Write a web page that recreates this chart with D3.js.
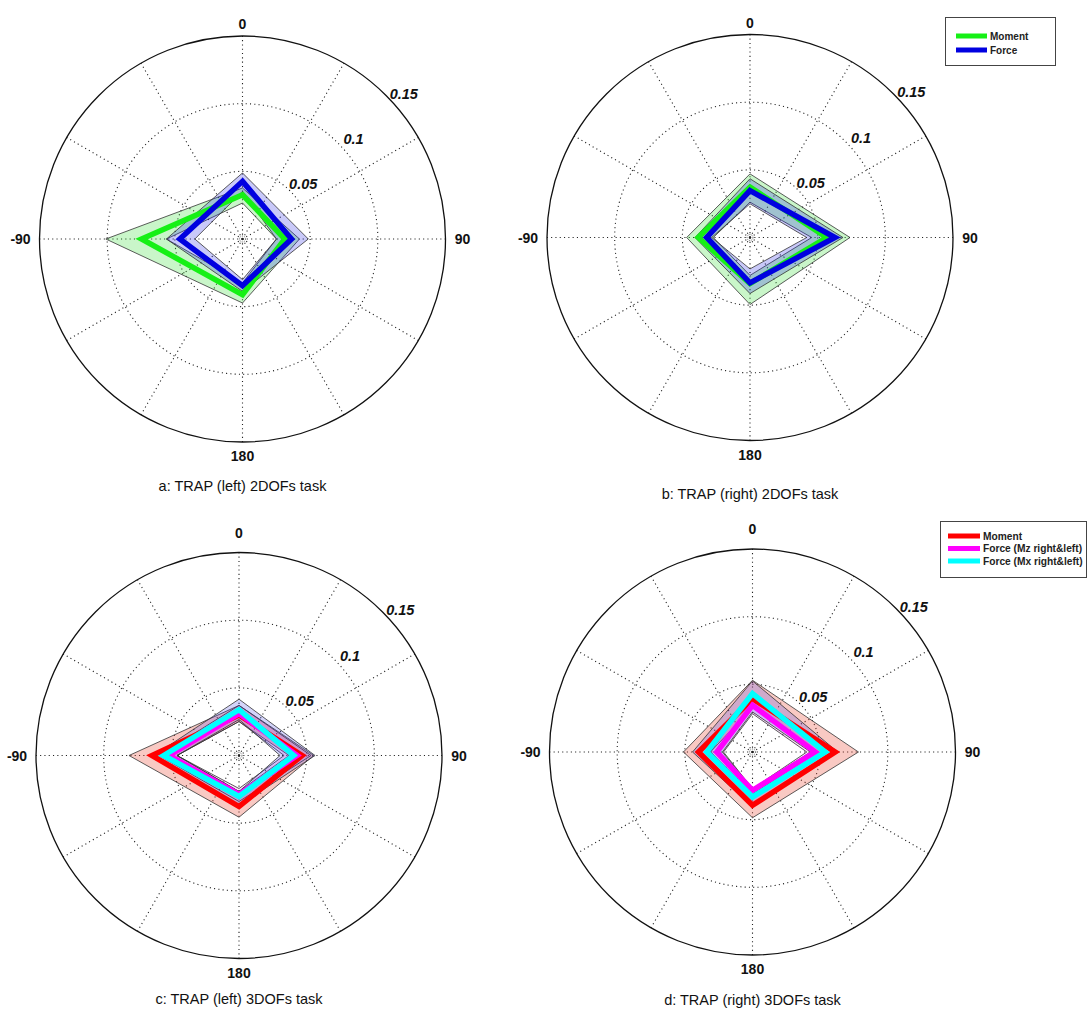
<!DOCTYPE html>
<html>
<head>
<meta charset="utf-8">
<script src="https://cdn.jsdelivr.net/npm/d3@7"></script>
<style>
  html, body { margin: 0; padding: 0; background: #fff; }
  svg { display: block; }
</style>
</head>
<body>
<svg id="chart" width="1089" height="1011"></svg>
<script>
// ---------- DATA ----------
const angles = [0, 90, 180, -90];           // polar directions (degrees, clockwise from top)
const angleLabels = ["0", "90", "180", "-90"];
const ringTicks = [0.05, 0.1, 0.15];
const ringTickLabels = ["0.05", "0.1", "0.15"];
const rMax = 0.15;
const spokeAngles = [0, 30, 60, 90, 120, 150, 180, 210, 240, 270, 300, 330];

const panelTitles = [
  "a: TRAP (left) 2DOFs task",
  "b: TRAP (right) 2DOFs task",
  "c: TRAP (left) 3DOFs task",
  "d: TRAP (right) 3DOFs task"
];

const legendNames2 = ["Moment", "Force"];
const legendNames3 = ["Moment", "Force (Mz right&left)", "Force (Mx right&left)"];

// values at angles [0, 90, 180, -90]
// panel a
const aMomentMean  = [0.0327, 0.0313, 0.0411, 0.0746];
const aMomentUpper = [0.0377, 0.0421, 0.0473, 0.1010];
const aMomentLower = [0.0266, 0.0251, 0.0325, 0.0562];
const aForceMean   = [0.0426, 0.0362, 0.0345, 0.0463];
const aForceUpper  = [0.0488, 0.0486, 0.0387, 0.0562];
const aForceLower  = [0.0352, 0.0251, 0.0300, 0.0352];
// panel b
const bMomentMean  = [0.0372, 0.0567, 0.0340, 0.0382];
const bMomentUpper = [0.0470, 0.0739, 0.0495, 0.0468];
const bMomentLower = [0.0261, 0.0456, 0.0280, 0.0271];
const bForceMean   = [0.0347, 0.0628, 0.0335, 0.0320];
const bForceUpper  = [0.0434, 0.0687, 0.0414, 0.0406];
const bForceLower  = [0.0249, 0.0419, 0.0232, 0.0283];
// panel c
const cMomentMean  = [0.0300, 0.0466, 0.0377, 0.0643];
const cMomentUpper = [0.0370, 0.0552, 0.0456, 0.0813];
const cMomentLower = [0.0251, 0.0370, 0.0266, 0.0458];
const cMzMean      = [0.0310, 0.0429, 0.0288, 0.0517];
const cMzUpper     = [0.0370, 0.0532, 0.0340, 0.0590];
const cMzLower     = [0.0251, 0.0333, 0.0244, 0.0458];
const cMxMean      = [0.0338, 0.0404, 0.0303, 0.0557];
const cMxUpper     = [0.0416, 0.0562, 0.0370, 0.0628];
const cMxLower     = [0.0266, 0.0303, 0.0266, 0.0458];
// panel d
const dMomentMean  = [0.0394, 0.0611, 0.0394, 0.0399];
const dMomentUpper = [0.0530, 0.0783, 0.0486, 0.0510];
const dMomentLower = [0.0330, 0.0480, 0.0310, 0.0310];
const dMzMean      = [0.0345, 0.0463, 0.0283, 0.0264];
const dMzUpper     = [0.0443, 0.0532, 0.0333, 0.0310];
const dMzLower     = [0.0283, 0.0401, 0.0271, 0.0214];
const dMxMean      = [0.0431, 0.0537, 0.0333, 0.0338];
const dMxUpper     = [0.0525, 0.0630, 0.0406, 0.0443];
const dMxLower     = [0.0296, 0.0429, 0.0273, 0.0222];

// ---------- STYLE / LAYOUT ----------
const R = 203;
const panels = [
  { cx: 242.5, cy: 239, title: panelTitles[0], titleY: 486, topOff: 215,
    series: [
      { mean: aMomentMean, upper: aMomentUpper, lower: aMomentLower, line: "#16f016", band: "rgba(40,220,40,0.25)" },
      { mean: aForceMean,  upper: aForceUpper,  lower: aForceLower,  line: "#0000e0", band: "rgba(40,40,230,0.25)" }
    ] },
  { cx: 750, cy: 237.5, title: panelTitles[1], titleY: 494, topOff: 215,
    series: [
      { mean: bMomentMean, upper: bMomentUpper, lower: bMomentLower, line: "#16f016", band: "rgba(40,220,40,0.25)" },
      { mean: bForceMean,  upper: bForceUpper,  lower: bForceLower,  line: "#0000e0", band: "rgba(40,40,230,0.25)" }
    ] },
  { cx: 239, cy: 755.5, title: panelTitles[2], titleY: 999, topOff: 223,
    series: [
      { mean: cMomentMean, upper: cMomentUpper, lower: cMomentLower, line: "#ff0000", band: "rgba(235,60,40,0.28)" },
      { mean: cMzMean,     upper: cMzUpper,     lower: cMzLower,     line: "#ff00ff", band: "rgba(230,80,230,0.18)" },
      { mean: cMxMean,     upper: cMxUpper,     lower: cMxLower,     line: "#00ffff", band: "rgba(60,60,230,0.22)" }
    ] },
  { cx: 752.5, cy: 752, title: panelTitles[3], titleY: 1000, topOff: 223,
    series: [
      { mean: dMomentMean, upper: dMomentUpper, lower: dMomentLower, line: "#ff0000", band: "rgba(235,60,40,0.28)" },
      { mean: dMzMean,     upper: dMzUpper,     lower: dMzLower,     line: "#ff00ff", band: "rgba(230,80,230,0.18)" },
      { mean: dMxMean,     upper: dMxUpper,     lower: dMxLower,     line: "#00ffff", band: "rgba(60,60,230,0.22)" }
    ] }
];

const svg = d3.select("#chart");
const r = d3.scaleLinear().domain([0, rMax]).range([0, R]);
const toRad = d => d * Math.PI / 180;
const radial = d3.lineRadial()
  .angle(d => toRad(d.a))
  .radius(d => r(d.v))
  .curve(d3.curveLinearClosed);
const pts = vals => angles.map((a, i) => ({ a, v: vals[i] }));

const dots = "1.1,3.2";
const font = "'Liberation Sans', Arial, sans-serif";

panels.forEach(p => {
  const g = svg.append("g").attr("transform", `translate(${p.cx},${p.cy})`);

  // grid: dotted rings
  ringTicks.slice(0, -1).forEach(t => {
    g.append("circle").attr("r", r(t)).attr("fill", "none")
      .attr("stroke", "#222").attr("stroke-width", 1.1).attr("stroke-dasharray", dots);
  });
  g.append("circle").attr("r", 3).attr("fill", "none")
    .attr("stroke", "#333").attr("stroke-width", 0.8).attr("stroke-dasharray", "1,1.2");
  // spokes
  spokeAngles.forEach(a => {
    const x = Math.sin(toRad(a)) * R, y = -Math.cos(toRad(a)) * R;
    g.append("line").attr("x1", 0).attr("y1", 0).attr("x2", x).attr("y2", y)
      .attr("stroke", "#222").attr("stroke-width", 1.1).attr("stroke-dasharray", dots);
  });
  // outer circle
  g.append("circle").attr("r", r(rMax)).attr("fill", "none")
    .attr("stroke", "#111").attr("stroke-width", 1.3);

  // ring labels
  ringTicks.forEach((t, i) => {
    const rr = r(t) + 14, a = toRad(48);
    g.append("text").attr("x", Math.sin(a) * rr).attr("y", -Math.cos(a) * rr)
      .attr("text-anchor", "middle").attr("dominant-baseline", "central")
      .attr("font-family", font).attr("font-weight", "bold").attr("font-style", "italic")
      .attr("font-size", 14.5).attr("fill", "#111").text(ringTickLabels[i]);
  });

  // angle labels
  const labPos = [[0, -p.topOff], [220, 0], [0, 217], [-222, 0]];
  angleLabels.forEach((t, i) => {
    g.append("text").attr("x", labPos[i][0]).attr("y", labPos[i][1])
      .attr("text-anchor", "middle").attr("dominant-baseline", "central")
      .attr("font-family", font).attr("font-weight", "bold")
      .attr("font-size", 14).attr("fill", "#111").text(t);
  });

  // bands
  p.series.forEach(s => {
    const outer = radial(pts(s.upper));
    const inner = radial(pts(s.lower));
    g.append("path").attr("d", outer + inner).attr("fill", s.band)
      .attr("fill-rule", "evenodd").attr("stroke", "none");
    g.append("path").attr("d", outer).attr("fill", "none")
      .attr("stroke", "#333").attr("stroke-width", 0.8);
    g.append("path").attr("d", inner).attr("fill", "none")
      .attr("stroke", "#333").attr("stroke-width", 0.8);
  });
  // mean lines
  p.series.forEach(s => {
    g.append("path").attr("d", radial(pts(s.mean))).attr("fill", "none")
      .attr("stroke", s.line).attr("stroke-width", 5.5).attr("stroke-linejoin", "miter");
  });

  // title
  svg.append("text").attr("x", p.cx).attr("y", p.titleY)
    .attr("text-anchor", "middle").attr("dominant-baseline", "central")
    .attr("font-family", font).attr("font-size", 14.5).attr("fill", "#111").text(p.title);
});

// legends
function legend(x, y, w, h, names, colors, rowY0, rowStep, fs, lineX0, lineX1) {
  const lg = svg.append("g");
  lg.append("rect").attr("x", x).attr("y", y).attr("width", w).attr("height", h)
    .attr("fill", "#fff").attr("stroke", "#444").attr("stroke-width", 1);
  const maxW = x + w - (lineX1 + 3) - 3;
  const texts = names.map((n, i) => {
    const yy = rowY0 + i * rowStep;
    lg.append("line").attr("x1", lineX0).attr("x2", lineX1).attr("y1", yy).attr("y2", yy)
      .attr("stroke", colors[i]).attr("stroke-width", 5);
    return lg.append("text").attr("x", lineX1 + 3).attr("y", yy).attr("dominant-baseline", "central")
      .attr("font-family", font).attr("font-weight", "bold").attr("font-size", fs)
      .attr("fill", "#222").text(n);
  });
  // shrink font uniformly so the longest entry fits inside the box
  const longest = d3.max(texts, t => t.node().getComputedTextLength());
  if (longest > maxW) {
    const f = Math.floor(fs * maxW / longest * 10) / 10;
    texts.forEach(t => t.attr("font-size", f));
  }
}
legend(945.5, 17.5, 110, 48, legendNames2, ["#16f016", "#0000e0"], 36, 14, 10, 956, 987);
legend(940.5, 521.5, 146, 56, legendNames3, ["#ff0000", "#ff00ff", "#00ffff"], 536, 12.5, 11, 948, 980);
</script>
</body>
</html>
